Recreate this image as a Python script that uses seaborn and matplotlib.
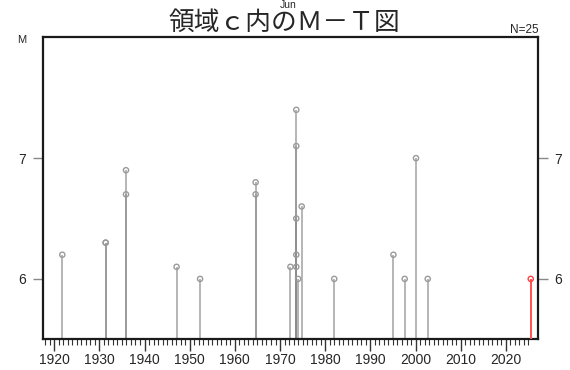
import matplotlib
matplotlib.use('Agg')
import matplotlib.pyplot as plt
import seaborn as sns
import pandas as pd
from matplotlib.ticker import FixedLocator

# 発生時期(年)とマグニチュード
anios = [1921.8, 1931.4, 1931.4, 1935.9, 1935.9, 1947.1, 1952.3,
         1964.6, 1964.6, 1972.3, 1973.6, 1973.6, 1973.6, 1973.6, 1973.6,
         1974.0, 1974.8, 1982.0, 1995.1, 1997.6, 2000.1, 2002.7, 2025.5]
magnitudes = [6.2, 6.3, 6.3, 6.9, 6.7, 6.1, 6.0,
              6.8, 6.7, 6.1, 7.4, 7.1, 6.5, 6.2, 6.1,
              6.0, 6.6, 6.0, 6.2, 6.0, 7.0, 6.0, 6.0]
ultimo = [False] * 22 + [True]

df = pd.DataFrame({'anio': anios, 'M': magnitudes, 'ultimo': ultimo})

sns.set_style('white')
plt.rcParams['font.family'] = ['Liberation Sans', 'DejaVu Sans']

fig = plt.figure(figsize=(5.7, 3.7), dpi=100)
ax = fig.add_axes([0.076, 0.083, 0.867, 0.816])

y0 = 5.5
viejos = df[~df['ultimo']]
nuevo = df[df['ultimo']]
ax.vlines(viejos['anio'], y0, viejos['M'], color='#8c8c8c', lw=1.2, alpha=0.75, zorder=2)
ax.vlines(nuevo['anio'], y0, nuevo['M'], color='#ff5050', lw=1.4, zorder=3)
sns.scatterplot(data=viejos, x='anio', y='M', ax=ax, s=14, facecolor='none',
                edgecolor='#9a9a9a', linewidth=1.0, zorder=4, legend=False)
sns.scatterplot(data=nuevo, x='anio', y='M', ax=ax, s=14, facecolor='none',
                edgecolor='#ff4040', linewidth=1.0, zorder=5, legend=False)

ax.set_xlim(1917.6, 2027.0)
ax.set_ylim(5.5, 8.0)
ax.set_xlabel('')
ax.set_ylabel('')

ax.set_xticks(range(1920, 2021, 10))
ax.xaxis.set_minor_locator(FixedLocator([a for a in range(1918, 2026) if a % 10]))
ax.tick_params(axis='x', which='major', length=8.5, width=1.0, color='#333333',
               labelsize=10, pad=1.5, direction='out', bottom=True)
ax.tick_params(axis='x', which='minor', length=4.3, width=0.8, color='#333333',
               direction='out', bottom=True)

ax.set_yticks([6, 7])
ax.tick_params(axis='y', which='major', length=7.2, width=1.0, color='#888888',
               labelsize=10, pad=5, direction='out', left=True, right=True,
               labelleft=True, labelright=True)

for s in ax.spines.values():
    s.set_color('#1a1a1a')
    s.set_linewidth(1.6)

fig.text(0.499, 0.938, '領域ｃ内のＭ－Ｔ図', ha='center', va='center', fontsize=18.5,
         family=['Noto Sans CJK JP', 'DejaVu Sans'])
fig.text(0.505, 0.986, 'Jun', ha='center', va='center', fontsize=7.5)
fig.text(0.038, 0.892, 'M', ha='center', va='center', fontsize=8)
fig.text(0.945, 0.918, 'N=25', ha='right', va='center', fontsize=8.5)

fig.savefig('out.png', dpi=100)
